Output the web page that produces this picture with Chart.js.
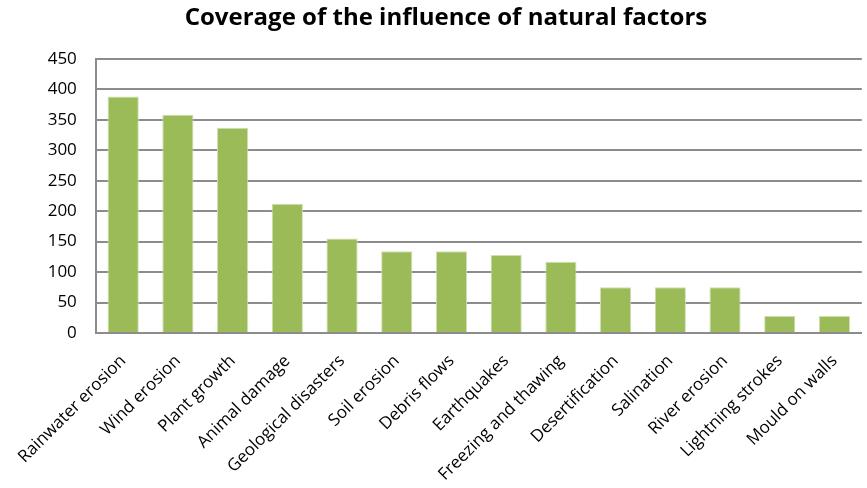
<!DOCTYPE html>
<html>
<head>
<meta charset="utf-8">
<script src="https://cdn.jsdelivr.net/npm/chart.js@4"></script>
<style>
  html, body { margin: 0; padding: 0; background: #fff; }
  #wrap { width: 867px; height: 488px; }
</style>
</head>
<body>
<div id="wrap"><canvas id="chart"></canvas></div>
<script>
// Datos
const categories = ['Rainwater erosion', 'Wind erosion', 'Plant growth', 'Animal damage',
    'Geological disasters', 'Soil erosion', 'Debris flows', 'Earthquakes',
    'Freezing and thawing', 'Desertification', 'Salination', 'River erosion',
    'Lightning strokes', 'Mould on walls'];
const coverage = [388, 358, 337, 212, 155, 134, 134, 128, 117, 75, 75, 75, 28, 28];
const yTicks = [0, 50, 100, 150, 200, 250, 300, 350, 400, 450];

const gridGray = '#8c8c8c';

new Chart(document.getElementById('chart'), {
    type: 'bar',
    data: {
        labels: categories,
        datasets: [{
            label: 'Coverage',
            data: coverage,
            backgroundColor: '#9bbb59',
            borderColor: '#cfe0b0',
            borderWidth: 1,
            categoryPercentage: 1,
            barPercentage: 0.57
        }]
    },
    options: {
        responsive: true,
        maintainAspectRatio: false,
        animation: false,
        layout: { padding: { left: 30, right: 5, top: 4, bottom: 0 } },
        plugins: {
            legend: { display: false },
            tooltip: { enabled: false },
            title: {
                display: true,
                text: 'Coverage of the influence of natural factors',
                color: '#000',
                font: { family: 'Open Sans', size: 24, weight: 'bold' },
                padding: { top: 0, bottom: 26 }
            }
        },
        scales: {
            x: {
                afterFit: s => { s.height = 155; },
                grid: { display: false, drawTicks: false },
                border: { color: gridGray, width: 2 },
                ticks: {
                    color: '#000',
                    font: { family: 'Open Sans', size: 17 },
                    minRotation: 45,
                    maxRotation: 45,
                    padding: 18,
                    autoSkip: false
                }
            },
            y: {
                min: 0,
                max: 450,
                afterBuildTicks: s => { s.ticks = yTicks.map(v => ({ value: v })); },
                afterFit: s => { s.width = 64; },
                grid: { color: gridGray, lineWidth: 2, drawTicks: false },
                border: { color: gridGray, width: 2 },
                ticks: {
                    color: '#000',
                    font: { family: 'Open Sans', size: 17 },
                    padding: 19
                }
            }
        }
    }
});
</script>
</body>
</html>
